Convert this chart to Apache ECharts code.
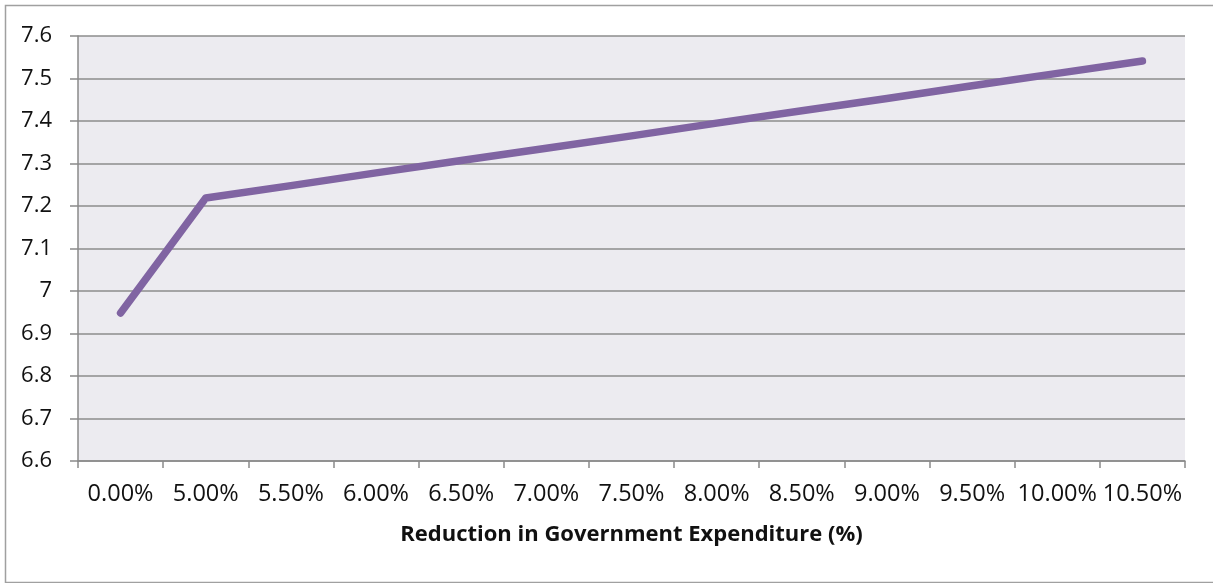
<!DOCTYPE html>
<html>
<head>
<meta charset="utf-8">
<script src="https://cdn.jsdelivr.net/npm/echarts@6/dist/echarts.min.js"></script>
<style>
  html, body { margin: 0; padding: 0; background: #ffffff; }
  #chart { width: 1213px; height: 583px; }
</style>
</head>
<body>
<div id="chart"></div>
<script>
// Reduction in government expenditure (category axis)
const categories = ['0.00%', '5.00%', '5.50%', '6.00%', '6.50%', '7.00%', '7.50%',
  '8.00%', '8.50%', '9.00%', '9.50%', '10.00%', '10.50%'];
// Series values
const values = [6.948, 7.219, 7.248, 7.278, 7.307, 7.336, 7.365, 7.395, 7.424, 7.453, 7.483, 7.512, 7.541];
// Value axis range
const yMin = 6.6;
const yMax = 7.6;
const yStep = 0.1;
const xTitle = 'Reduction in Government Expenditure (%)';

const FONT = '"Open Sans", "Noto Sans", sans-serif';
const chart = echarts.init(document.getElementById('chart'), null, { renderer: 'canvas' });

chart.setOption({
  animation: false,
  backgroundColor: '#ffffff',
  graphic: [{
    type: 'rect',
    left: 3, top: 3, z: -1,
    shape: { width: 1215, height: 577 },
    style: { fill: 'none', stroke: '#a0a0a0', lineWidth: 1.5 }
  }],
  grid: {
    left: 78, right: 28, top: 36, bottom: 122,
    show: true,
    backgroundColor: '#ecebf0',
    borderWidth: 0
  },
  xAxis: {
    type: 'category',
    data: categories,
    boundaryGap: true,
    axisLine: { show: true, lineStyle: { color: '#8a8a8a', width: 1.5 } },
    axisTick: { show: true, alignWithLabel: false, length: 7, inside: false,
      lineStyle: { color: '#8a8a8a', width: 1.5 } },
    axisLabel: { color: '#111', fontFamily: FONT, fontSize: 23.5, margin: 21, interval: 0 },
    splitLine: { show: false },
    name: xTitle,
    nameLocation: 'middle',
    nameGap: 63,
    nameTextStyle: { color: '#111', fontFamily: FONT, fontSize: 22, fontWeight: 'bold' }
  },
  yAxis: {
    type: 'value',
    min: yMin, max: yMax, interval: yStep,
    axisLine: { show: true, lineStyle: { color: '#8a8a8a', width: 1.5 } },
    axisTick: { show: true, length: 8, lineStyle: { color: '#8a8a8a', width: 1.5 } },
    axisLabel: {
      color: '#111', fontFamily: FONT, fontSize: 22, margin: 26,
      formatter: v => String(Math.round(v * 10) / 10)
    },
    splitLine: { show: true, lineStyle: { color: '#8c8c8c', width: 1.5 } }
  },
  series: [{
    type: 'line',
    data: values,
    symbol: 'none',
    smooth: false,
    lineStyle: { color: '#8064a2', width: 7.5, cap: 'round', join: 'round' },
    itemStyle: { color: '#8064a2' }
  }]
});
</script>
</body>
</html>
